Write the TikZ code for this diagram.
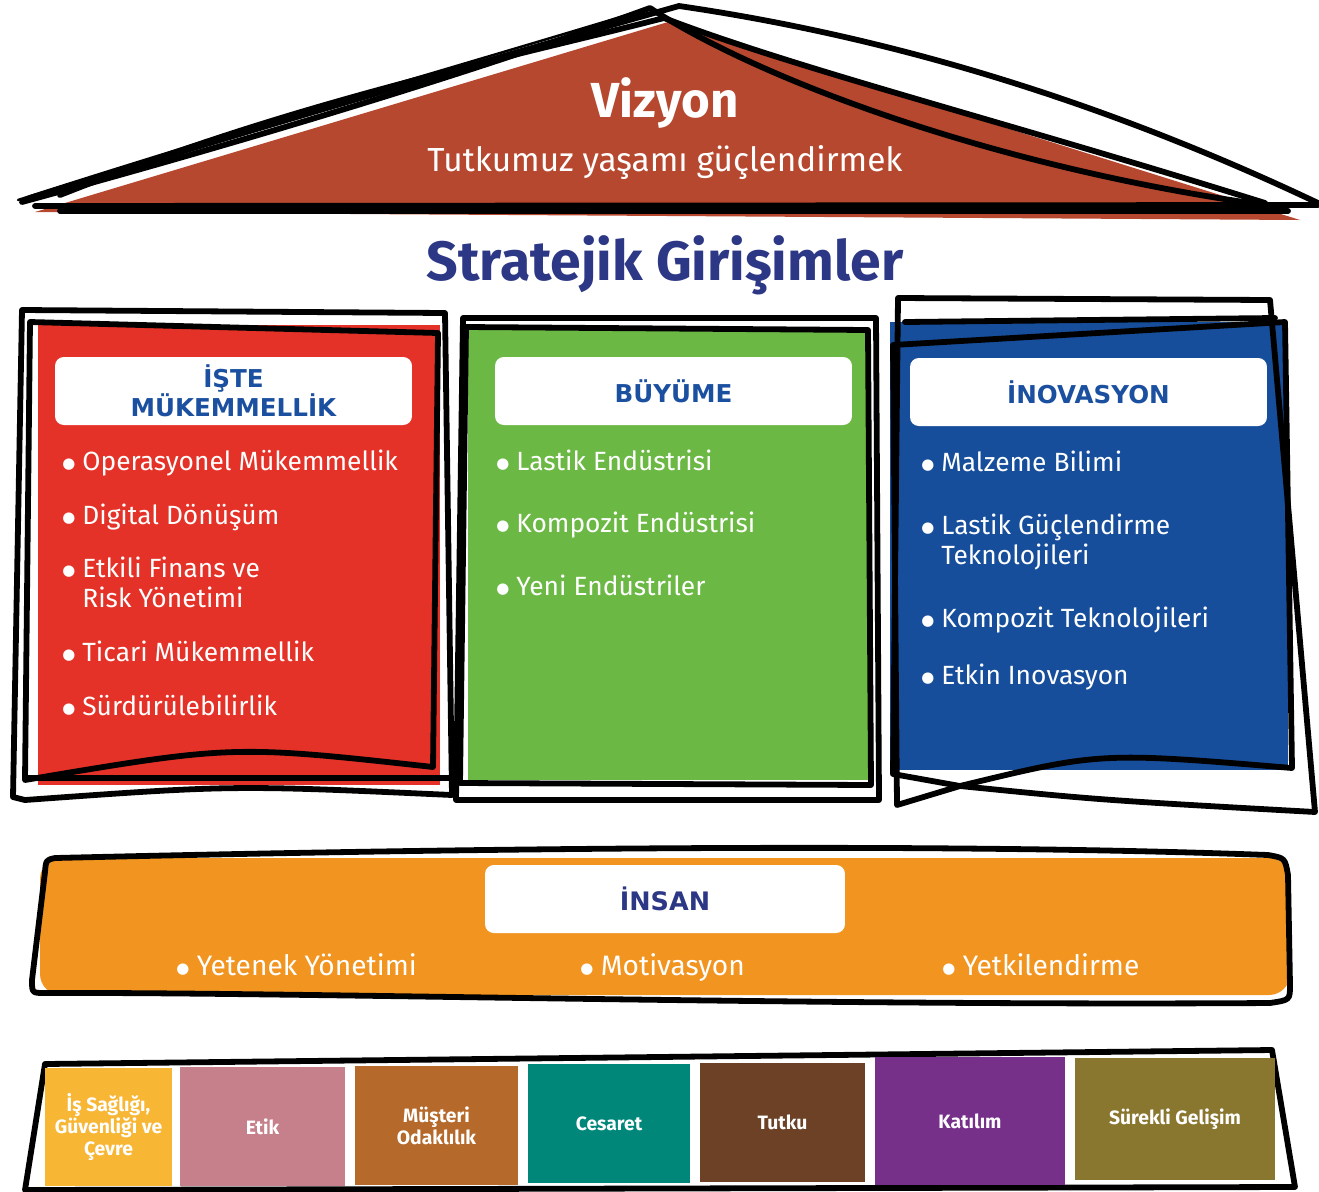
\documentclass[tikz,border=0pt]{standalone}
\usepackage{fontspec}
\setmainfont{Fira Sans}
\newfontfamily\headfont{DejaVu Sans}
\newcommand{\blt}{\raisebox{0.6pt}{\headfont\fontsize{8.5}{8.5}\selectfont ●}}
\definecolor{roofred}{HTML}{B6482F}
\definecolor{navy}{HTML}{2C3785}
\definecolor{headblue}{HTML}{1B50A0}
\definecolor{panelred}{HTML}{E53228}
\definecolor{panelgreen}{HTML}{6CB845}
\definecolor{panelblue}{HTML}{174E9B}
\definecolor{bandorange}{HTML}{F19420}
\definecolor{vyellow}{HTML}{F7B634}
\definecolor{vpink}{HTML}{C6808B}
\definecolor{vbrown}{HTML}{B5692B}
\definecolor{vteal}{HTML}{00877A}
\definecolor{vdark}{HTML}{6C4125}
\definecolor{vpurple}{HTML}{76308A}
\definecolor{volive}{HTML}{8A772F}
\tikzset{
	sketch/.style={line width=3.3pt, line join=round, line cap=round},
	head/.style={fill=white, rounded corners=5pt, minimum width=7.14cm, minimum height=1.36cm,
		inner sep=0pt, align=center, font=\headfont\bfseries\fontsize{14}{16.4}\selectfont},
	item/.style={anchor=base west, inner sep=0pt, text=white, font=\fontsize{15}{17.6}\selectfont},
	value/.style={inner sep=0pt, text=white, align=center, font=\bfseries\fontsize{11}{12.5}\selectfont}
}
\begin{document}
\begin{tikzpicture}[x=0.02cm, y=-0.02cm]
\useasboundingbox (0,0) rectangle (1319,1191);

% roof
\fill[roofred] (35,212) -- (668,22) -- (1300,220) -- cycle;
\draw[sketch, line width=1.4pt] (18,200) .. controls (250,125) and (480,60) .. (650,8);
\draw[sketch] (30,198) .. controls (250,130) and (480,62) .. (679,6)
	.. controls (892,37) and (1105,102) .. (1318,203);
\draw[sketch] (22,202) .. controls (250,140) and (480,70) .. (650,8)
	.. controls (760,80) and (1000,170) .. (1279,207);
\draw[sketch] (60,195) .. controls (300,100) and (500,60) .. (664,18)
	.. controls (800,70) and (1000,120) .. (1265,203);
\draw[sketch] (35,206) -- (1318,205);
\draw[sketch] (60,211) -- (1288,211);
\node[text=white, font=\bfseries\fontsize{28}{30}\selectfont] (vizyon) at (665,103) {Vizyon};
\node[text=white, font=\fontsize{19}{21}\selectfont] (tutku) at (665,162) {Tutkumuz yaşamı güçlendirmek};

\node[text=navy, font=\bfseries\fontsize{31.5}{33}\selectfont] (strateji) at (665,265) {Stratejik Girişimler};

% panels
\fill[panelred] (38,325) rectangle (440,785);
\fill[panelgreen] (468,327) rectangle (868,780);
\fill[panelblue] (890,322) rectangle (1288,770);

\draw[sketch] (22,310) -- (445,313) -- (452,795) .. controls (233,785) .. (25,800) -- (13,797) -- cycle;
\draw[sketch] (30,322) -- (438,333) -- (433,767) .. controls (233,745) .. (25,780) -- cycle;
\draw[sketch] (25,778) -- (453,778);
\draw[sketch] (463,318) -- (876,318) -- (879,800) -- (456,800) -- cycle;
\draw[sketch] (466,327) -- (868,330) -- (871,785) -- (460,783) -- cycle;
\draw[sketch] (898,298) -- (1270,300) -- (1315,812) .. controls (1100,800) .. (960,786)
	-- (893,774) -- cycle;
\draw[sketch] (893,345) -- (1285,322) -- (1292,768) .. controls (1100,752) .. (960,786)
	-- (897,805) -- cycle;
\draw[sketch] (905,322) -- (1275,318);

\node[head, text=headblue] (iste) at (233.5,391) {İŞTE\\MÜKEMMELLİK};
\node[head, text=headblue] (buyume) at (673.5,391) {BÜYÜME};
\node[head, text=headblue] (inovasyon) at (1088.5,392) {İNOVASYON};

\foreach \y/\text [count=\i] in {
	470/Operasyonel Mükemmellik,
	524/Digital Dönüşüm,
	577/Etkili Finans ve\\Risk Yönetimi,
	661/Ticari Mükemmellik,
	715/Sürdürülebilirlik}
	\node[item] (red\i) at (62,\y) {\blt\ \begin{tabular}[t]{@{}l@{}}\text\end{tabular}};
\foreach \y/\text [count=\i] in {
	470/Lastik Endüstrisi,
	532/Kompozit Endüstrisi,
	595/Yeni Endüstriler}
	\node[item] (green\i) at (496,\y) {\blt\ \text};
\foreach \y/\text [count=\i] in {
	471/Malzeme Bilimi,
	534/Lastik Güçlendirme\\Teknolojileri,
	627/Kompozit Teknolojileri,
	684/Etkin Inovasyon}
	\node[item] (blue\i) at (921,\y) {\blt\ \begin{tabular}[t]{@{}l@{}}\text\end{tabular}};

% people band
\fill[bandorange, rounded corners=12pt] (40,858) rectangle (1290,995);
\draw[sketch] (55,858) .. controls (600,845) and (1000,845) .. (1268,855)
	.. controls (1285,858) .. (1288,875) -- (1290,985)
	.. controls (1290,1000) .. (1270,1003)
	.. controls (800,1006) and (300,992) .. (45,993)
	.. controls (32,993) .. (32,980) -- (45,872)
	.. controls (46,860) .. (55,858);
\node[head, text=navy, minimum width=7.2cm, font=\headfont\bfseries\fontsize{14.5}{16}\selectfont] (insan) at (665,899) {İNSAN};
\foreach \x/\text [count=\i] in {
	176/Yetenek Yönetimi,
	580/Motivasyon,
	942/Yetkilendirme}
	\node[item, font=\fontsize{16}{19}\selectfont] (band\i) at (\x,975) {\blt\ \text};

% values
\draw[sketch] (45,1064) -- (1272,1050) -- (1295,1187) -- (25,1190) -- cycle;
\foreach \x/\y/\w/\h/\col/\text [count=\i] in {
	108.5/1127/2.54/2.36/vyellow/{İş Sağlığı,\\Güvenliği ve\\Çevre},
	262.5/1126.5/3.3/2.38/vpink/Etik,
	436.5/1125.5/3.26/2.38/vbrown/Müşteri\\Odaklılık,
	609/1123.5/3.24/2.38/vteal/Cesaret,
	782.5/1122.5/3.3/2.38/vdark/Tutku,
	970/1121/3.8/2.56/vpurple/Katılım,
	1175/1119/4.0/2.44/volive/Sürekli Gelişim}
	\node[value, fill=\col, minimum width=\w cm, minimum height=\h cm] (value\i) at (\x,\y) {\text};

\end{tikzpicture}
\end{document}
